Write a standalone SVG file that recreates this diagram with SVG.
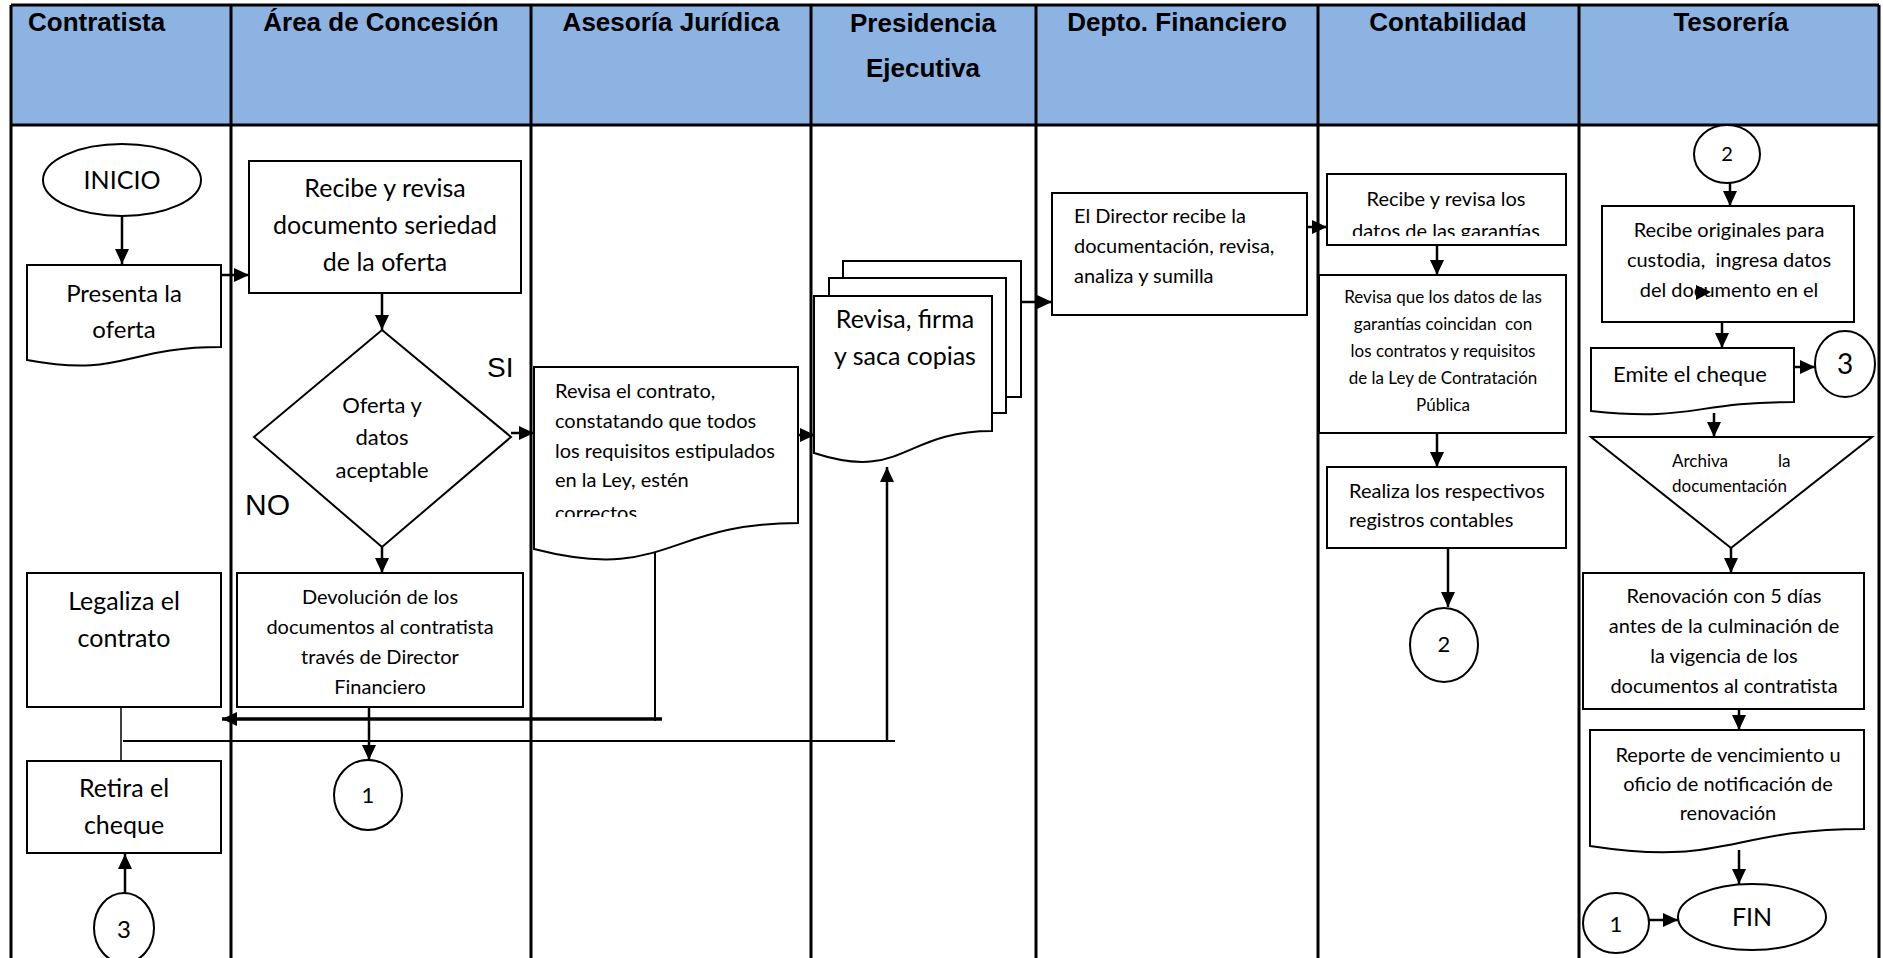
<svg xmlns="http://www.w3.org/2000/svg" width="1883" height="958" viewBox="0 0 1883 958">
<style>
.lane{stroke:#000;stroke-width:3;fill:none}
.shape{fill:#fff;stroke:#000;stroke-width:2}
.conn{stroke:#000;stroke-width:2.5;fill:none}
.t{font-family:Lato,'Liberation Sans',sans-serif;fill:#000}
.c{text-anchor:middle}
.hd{font-family:'Liberation Sans',Arial,sans-serif;font-weight:bold;font-size:26px;fill:#000;text-anchor:middle}
.lbl{font-family:'Liberation Sans',Arial,sans-serif;fill:#000}
</style>
<defs>
<marker id="ah" markerUnits="userSpaceOnUse" markerWidth="16" markerHeight="16" viewBox="0 0 16 16" refX="15" refY="8" orient="auto"><path d="M0,1 L15,8 L0,15 z" fill="#000"/></marker>
<clipPath id="clipRev"><rect x="530" y="360" width="280" height="157"/></clipPath>
<clipPath id="clipGar"><rect x="1320" y="170" width="250" height="66"/></clipPath>
</defs>
<rect width="1883" height="958" fill="#fff"/>
<g id="lanes">
<rect x="11" y="5" width="1868" height="120" fill="#8DB3E2"/>
<line class="lane" x1="11" y1="5" x2="1879" y2="5"/>
<line class="lane" x1="11" y1="125" x2="1879" y2="125"/>
<line class="lane" x1="11" y1="5" x2="11" y2="958"/>
<line class="lane" x1="231" y1="5" x2="231" y2="958"/>
<line class="lane" x1="531" y1="5" x2="531" y2="958"/>
<line class="lane" x1="811" y1="5" x2="811" y2="958"/>
<line class="lane" x1="1036" y1="5" x2="1036" y2="958"/>
<line class="lane" x1="1318" y1="5" x2="1318" y2="958"/>
<line class="lane" x1="1579" y1="5" x2="1579" y2="958"/>
<line class="lane" x1="1879" y1="5" x2="1879" y2="958"/>
<text class="hd" x="28" y="31" style="text-anchor:start">Contratista</text>
<text class="hd" x="381" y="31">Área de Concesión</text>
<text class="hd" x="671" y="31">Asesoría Jurídica</text>
<text class="hd" x="923" y="32">Presidencia</text>
<text class="hd" x="923" y="77">Ejecutiva</text>
<text class="hd" x="1177" y="31">Depto. Financiero</text>
<text class="hd" x="1448" y="31">Contabilidad</text>
<text class="hd" x="1731" y="31">Tesorería</text>
</g>
<g id="connectors">
<path class="conn" d="M122,216 V264" marker-end="url(#ah)"/>
<path class="conn" d="M221,275 H249" marker-end="url(#ah)"/>
<path class="conn" d="M382,293 V330" marker-end="url(#ah)"/>
<path class="conn" d="M511,433 H534" marker-end="url(#ah)"/>
<path class="conn" d="M382,547 V573" marker-end="url(#ah)"/>
<path class="conn" d="M798,435 H815" marker-end="url(#ah)"/>
<path class="conn" d="M1021,302 H1052" marker-end="url(#ah)"/>
<path class="conn" d="M1307,227 H1327" marker-end="url(#ah)"/>
<path class="conn" d="M1437,245 V275" marker-end="url(#ah)"/>
<path class="conn" d="M1437,433 V467" marker-end="url(#ah)"/>
<path class="conn" d="M1448,548 V607" marker-end="url(#ah)"/>
<path class="conn" d="M1730,183 V206" marker-end="url(#ah)"/>
<path class="conn" d="M1722,322 V348" marker-end="url(#ah)"/>
<path class="conn" d="M1794,367 H1815" marker-end="url(#ah)"/>
<path class="conn" d="M1714,413 V437" marker-end="url(#ah)"/>
<path class="conn" d="M1731,548 V573" marker-end="url(#ah)"/>
<path class="conn" d="M1739,709 V730" marker-end="url(#ah)"/>
<path class="conn" d="M1739,850 V884" marker-end="url(#ah)"/>
<path class="conn" d="M1649,920 H1678" marker-end="url(#ah)"/>
<path class="conn" d="M369,707 V760" marker-end="url(#ah)"/>
<path class="conn" d="M655,550 V721" style="stroke-width:2"/>
<path class="conn" d="M662,719 H222" style="stroke-width:3.5" marker-end="url(#ah)"/>
<path class="conn" d="M121,707 V761" style="stroke-width:1.5"/>
<path class="conn" d="M123,741 H895" style="stroke-width:2"/>
<path class="conn" d="M887,741 V467" marker-end="url(#ah)"/>
<path class="conn" d="M125,893 V854" marker-end="url(#ah)"/>
</g>
<g id="inicio">
<ellipse class="shape" cx="122" cy="180" rx="79" ry="36"/>
<text class="t c" x="122" y="189" font-size="25">INICIO</text>
</g>
<g id="presenta">
<path class="shape" d="M27,265 H221 V347 C124,347 124,378 27,360 Z"/>
<text class="t c" x="124" y="302" font-size="24">Presenta la</text>
<text class="t c" x="124" y="338" font-size="24">oferta</text>
</g>
<g id="legaliza">
<rect class="shape" x="27" y="573" width="194" height="134"/>
<text class="t c" x="124" y="610" font-size="25">Legaliza el</text>
<text class="t c" x="124" y="647" font-size="25">contrato</text>
</g>
<g id="retira">
<rect class="shape" x="27" y="761" width="194" height="92"/>
<text class="t c" x="124" y="797" font-size="25">Retira el</text>
<text class="t c" x="124" y="834" font-size="25">cheque</text>
</g>
<g id="con3a">
<ellipse class="shape" cx="124" cy="928" rx="30" ry="35"/>
<text class="t c" x="124" y="938" font-size="24">3</text>
</g>
<g id="recibe">
<rect class="shape" x="249" y="161" width="272" height="132"/>
<text class="t c" x="385" y="197" font-size="25">Recibe y revisa</text>
<text class="t c" x="385" y="234" font-size="25">documento seriedad</text>
<text class="t c" x="385" y="271" font-size="25">de la oferta</text>
</g>
<g id="decision">
<polygon class="shape" points="382,330 511,437 382,547 254,437"/>
<text class="t c" x="382" y="413" font-size="22">Oferta y</text>
<text class="t c" x="382" y="445" font-size="22">datos</text>
<text class="t c" x="382" y="478" font-size="22">aceptable</text>
<text class="lbl" x="487" y="377" font-size="28">SI</text>
<text class="lbl" x="245" y="515" font-size="30">NO</text>
</g>
<g id="devolucion">
<rect class="shape" x="237" y="573" width="286" height="134"/>
<text class="t c" x="380" y="604" font-size="20">Devolución de los</text>
<text class="t c" x="380" y="634" font-size="20">documentos al contratista</text>
<text class="t c" x="380" y="664" font-size="20">través de Director</text>
<text class="t c" x="380" y="694" font-size="20">Financiero</text>
</g>
<g id="con1a">
<ellipse class="shape" cx="368" cy="795" rx="34" ry="35"/>
<text class="t c" x="368" y="803" font-size="22">1</text>
</g>
<g id="revisacontrato">
<path class="shape" d="M534,367 H798 V523 C666,523 666,583 534,549 Z"/>
<g clip-path="url(#clipRev)">
<text class="t" x="555" y="398" font-size="20">Revisa el contrato,</text>
<text class="t" x="555" y="428" font-size="20">constatando que todos</text>
<text class="t" x="555" y="458" font-size="20">los requisitos estipulados</text>
<text class="t" x="555" y="487" font-size="20">en la Ley, estén</text>
<text class="t" x="555" y="520" font-size="20">correctos.</text>
</g>
</g>
<g id="firma">
<rect class="shape" x="843" y="261" width="178" height="136"/>
<rect class="shape" x="829" y="278" width="177" height="135"/>
<path class="shape" d="M814,296 H992 V431 C903,431 903,482 814,453 Z"/>
<text class="t c" x="905" y="328" font-size="25">Revisa, firma</text>
<text class="t c" x="905" y="365" font-size="25">y saca copias</text>
</g>
<g id="director">
<rect class="shape" x="1052" y="193" width="255" height="122"/>
<text class="t" x="1074" y="223" font-size="20">El Director recibe la</text>
<text class="t" x="1074" y="253" font-size="20">documentación, revisa,</text>
<text class="t" x="1074" y="283" font-size="20">analiza y sumilla</text>
</g>
<g id="garantias">
<rect class="shape" x="1327" y="174" width="239" height="71"/>
<g clip-path="url(#clipGar)">
<text class="t c" x="1446" y="206" font-size="20">Recibe y revisa los</text>
<text class="t c" x="1446" y="238" font-size="20">datos de las garantías</text>
</g>
</g>
<g id="revisaque">
<rect class="shape" x="1319" y="275" width="247" height="158"/>
<text class="t c" x="1443" y="303" font-size="17">Revisa que los datos de las</text>
<text class="t c" x="1443" y="330" font-size="17" xml:space="preserve">garantías coincidan  con</text>
<text class="t c" x="1443" y="357" font-size="17">los contratos y requisitos</text>
<text class="t c" x="1443" y="384" font-size="17">de la Ley de Contratación</text>
<text class="t c" x="1443" y="411" font-size="17">Pública</text>
</g>
<g id="realiza">
<rect class="shape" x="1327" y="467" width="239" height="81"/>
<text class="t" x="1349" y="498" font-size="20">Realiza los respectivos</text>
<text class="t" x="1349" y="527" font-size="20">registros contables</text>
</g>
<g id="con2a">
<ellipse class="shape" cx="1444" cy="645" rx="34" ry="37"/>
<text class="t c" x="1444" y="652" font-size="22">2</text>
</g>
<g id="con2b">
<ellipse class="shape" cx="1727" cy="154" rx="33" ry="29"/>
<text class="t c" x="1727" y="161" font-size="20">2</text>
</g>
<g id="originales">
<rect class="shape" x="1602" y="206" width="252" height="116"/>
<text class="t c" x="1729" y="237" font-size="20">Recibe originales para</text>
<text class="t c" x="1729" y="267" font-size="20" xml:space="preserve">custodia,  ingresa datos</text>
<text class="t c" x="1729" y="297" font-size="20">del documento en el</text>
<polygon points="1696,285 1711,292 1696,300" fill="#000"/>
</g>
<g id="emite">
<path class="shape" d="M1591,348 H1794 V402 C1692,402 1692,422 1591,411 Z"/>
<text class="t" x="1613" y="382" font-size="22">Emite el cheque</text>
</g>
<g id="con3b">
<ellipse class="shape" cx="1845" cy="364" rx="30" ry="33"/>
<text class="t c" x="1845" y="374" font-size="28">3</text>
</g>
<g id="archiva">
<polygon class="shape" points="1591,437 1872,437 1731,548"/>
<text class="t" x="1672" y="467" font-size="17">Archiva</text>
<text class="t" x="1778" y="467" font-size="17">la</text>
<text class="t" x="1672" y="492" font-size="17">documentación</text>
</g>
<g id="renovacion">
<rect class="shape" x="1583" y="573" width="281" height="136"/>
<text class="t c" x="1724" y="603" font-size="20">Renovación con 5 días</text>
<text class="t c" x="1724" y="633" font-size="20">antes de la culminación de</text>
<text class="t c" x="1724" y="663" font-size="20">la vigencia de los</text>
<text class="t c" x="1724" y="693" font-size="20">documentos al contratista</text>
</g>
<g id="reporte">
<path class="shape" d="M1590,730 H1864 V829 C1727,829 1727,867 1590,846 Z"/>
<text class="t c" x="1728" y="762" font-size="20">Reporte de vencimiento u</text>
<text class="t c" x="1728" y="791" font-size="20">oficio de notificación de</text>
<text class="t c" x="1728" y="820" font-size="20">renovación</text>
</g>
<g id="fin">
<ellipse class="shape" cx="1752" cy="917" rx="74" ry="33"/>
<text class="t c" x="1752" y="926" font-size="25">FIN</text>
</g>
<g id="con1b">
<ellipse class="shape" cx="1616" cy="923" rx="33" ry="30"/>
<text class="t c" x="1616" y="932" font-size="22">1</text>
</g>
</svg>
